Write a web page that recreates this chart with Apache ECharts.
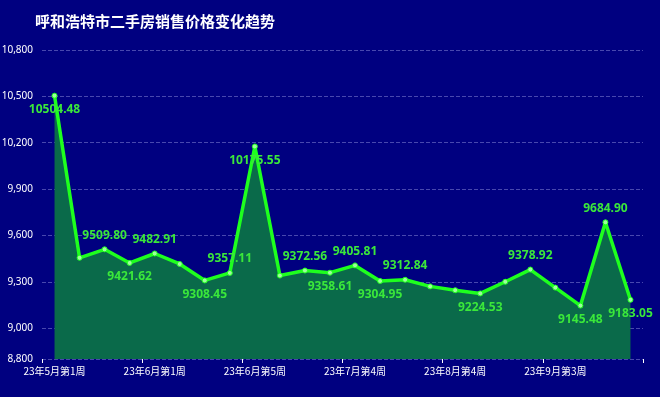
<!DOCTYPE html>
<html><head><meta charset="utf-8">
<script src="https://cdn.jsdelivr.net/npm/echarts@6/dist/echarts.min.js"></script>
<style>html,body{margin:0;padding:0;background:#000080;}#c{width:660px;height:397px;}</style>
</head><body><div id="c"></div>
<script>
const categories = ['23年5月第1周','23年5月第2周','23年5月第3周','23年5月第4周','23年6月第1周','23年6月第2周','23年6月第3周','23年6月第4周','23年6月第5周','23年7月第1周','23年7月第2周','23年7月第3周','23年7月第4周','23年8月第1周','23年8月第2周','23年8月第3周','23年8月第4周','23年8月第5周','23年9月第1周','23年9月第2周','23年9月第3周','23年9月第4周','23年10月第1周','23年10月第2周'];
const prices = [10504.48, 9455, 9509.80, 9421.62, 9482.91, 9415, 9308.45, 9357.11, 10175.55, 9340, 9372.56, 9358.61, 9405.81, 9304.95, 9312.84, 9270, 9245, 9224.53, 9300, 9378.92, 9262, 9145.48, 9684.90, 9183.05];
const labelPlacement = ['bottom','','top','bottom','top','','bottom','top','bottom','','top','bottom','top','bottom','top','','','bottom','','top','','bottom','top','bottom'];
const yMin = 8800, yMax = 10800;

const chart = echarts.init(document.getElementById('c'), null, {renderer:'canvas'});
const seriesData = prices.map((v,i)=>({
  value: v,
  label: labelPlacement[i] ? {show:true, position: labelPlacement[i]} : {show:false}
}));
chart.setOption({
  backgroundColor:'#000080',
  title:{text:'呼和浩特市二手房销售价格变化趋势', left:30, top:9,
    textStyle:{color:'#ffffff', fontSize:15, fontWeight:'bold', fontFamily:'Noto Sans CJK SC'}},
  grid:{left:42, right:17, top:50, bottom:38, containLabel:false, outerBoundsMode:'none'},
  xAxis:{type:'category', data:categories, boundaryGap:true,
    axisLine:{show:false},
    axisTick:{show:true, interval:3, length:4, lineStyle:{color:'#ffffff'}},
    axisLabel:{interval:3, color:'#ffffff', fontSize:10, margin:7, fontFamily:'Noto Sans CJK SC'},
    splitLine:{show:false}},
  yAxis:{type:'value', min:yMin, max:yMax, splitNumber:7,
    axisLine:{show:false}, axisTick:{show:false},
    axisLabel:{color:'#ffffff', fontSize:10, margin:9, fontFamily:'Noto Sans',
      formatter:v=>v.toLocaleString('en-US')},
    splitLine:{show:true, lineStyle:{color:'rgba(160,160,230,0.45)', type:'dashed', width:1}}},
  series:[{
    type:'line', data:seriesData, smooth:false,
    symbol:'circle', symbolSize:5, showSymbol:true,
    lineStyle:{color:'#1eff1e', width:3.5},
    itemStyle:{color:'#9dff9d', borderColor:'#1eff1e', borderWidth:1},
    areaStyle:{color:'#0a6a4a', opacity:1},
    label:{color:'#3ae83a', fontSize:12, fontWeight:'bold', fontFamily:'Noto Sans',
      formatter:p=>p.value.toFixed(2)},
    z:3
  }]
});
</script></body></html>
